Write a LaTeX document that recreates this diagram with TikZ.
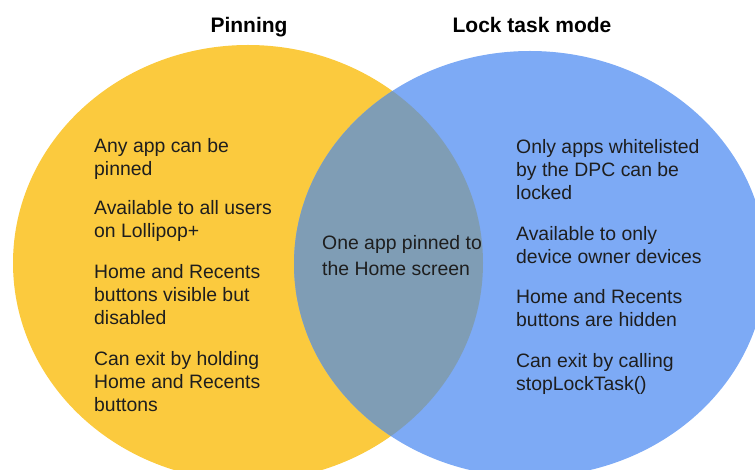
\documentclass[tikz,border=0pt]{standalone}
\usepackage{fontspec}
\setmainfont{Liberation Sans}
\definecolor{pinyellow}{HTML}{FBCA3E}
\definecolor{lockblue}{HTML}{7DAAF5}
\definecolor{bothgrey}{HTML}{7F9DB5}
\definecolor{inktext}{HTML}{1E1E1E}
\tikzset{
  settitle/.style={anchor=base, inner sep=0pt, text=black,
    font=\fontsize{21}{25}\selectfont\bfseries},
  item/.style={anchor=north west, inner sep=0pt, align=left, text=inktext,
    font=\fontsize{19.4}{23.2}\selectfont},
  pinset/.style={x radius=235, y radius=218},
  lockset/.style={x radius=236, y radius=213},
}
\begin{document}
\begin{tikzpicture}[x=1pt, y=-1pt]
  \useasboundingbox (0,0) rectangle (755,470);
  \coordinate (pinc)  at (248,263);
  \coordinate (lockc) at (530,264);
  \begin{scope}
    \clip (0,0) rectangle (755,470);
    % the two sets
    \fill[pinyellow] (pinc) ellipse [pinset];
    \fill[lockblue]  (lockc) ellipse [lockset];
    % their intersection
    \begin{scope}
      \clip (pinc) ellipse [pinset];
      \fill[bothgrey] (lockc) ellipse [lockset];
    \end{scope}
  \end{scope}

  % titles
  \node[settitle] (tpin)  at (249,33) {Pinning};
  \node[settitle] (tlock) at (532,33) {Lock task mode};

  % pinning only
  \node[item] (p1) at (94,138) {Any app can be\\pinned};
  \node[item] (p2) at (94,200) {Available to all users\\on Lollipop+};
  \node[item] (p3) at (94,264) {Home and Recents\\buttons visible but\\disabled};
  \node[item] (p4) at (94,351) {Can exit by holding\\Home and Recents\\buttons};

  % shared
  \node[item, font=\fontsize{19.4}{25.8}\selectfont] (c1) at (322,235)
    {One app pinned to\\the Home screen};

  % lock task mode only
  \node[item] (l1) at (516,139) {Only apps whitelisted\\by the DPC can be\\locked};
  \node[item] (l2) at (516,226) {Available to only\\device owner devices};
  \node[item] (l3) at (516,289) {Home and Recents\\buttons are hidden};
  \node[item] (l4) at (516,353) {Can exit by calling\\stopLockTask()};
\end{tikzpicture}
\end{document}
